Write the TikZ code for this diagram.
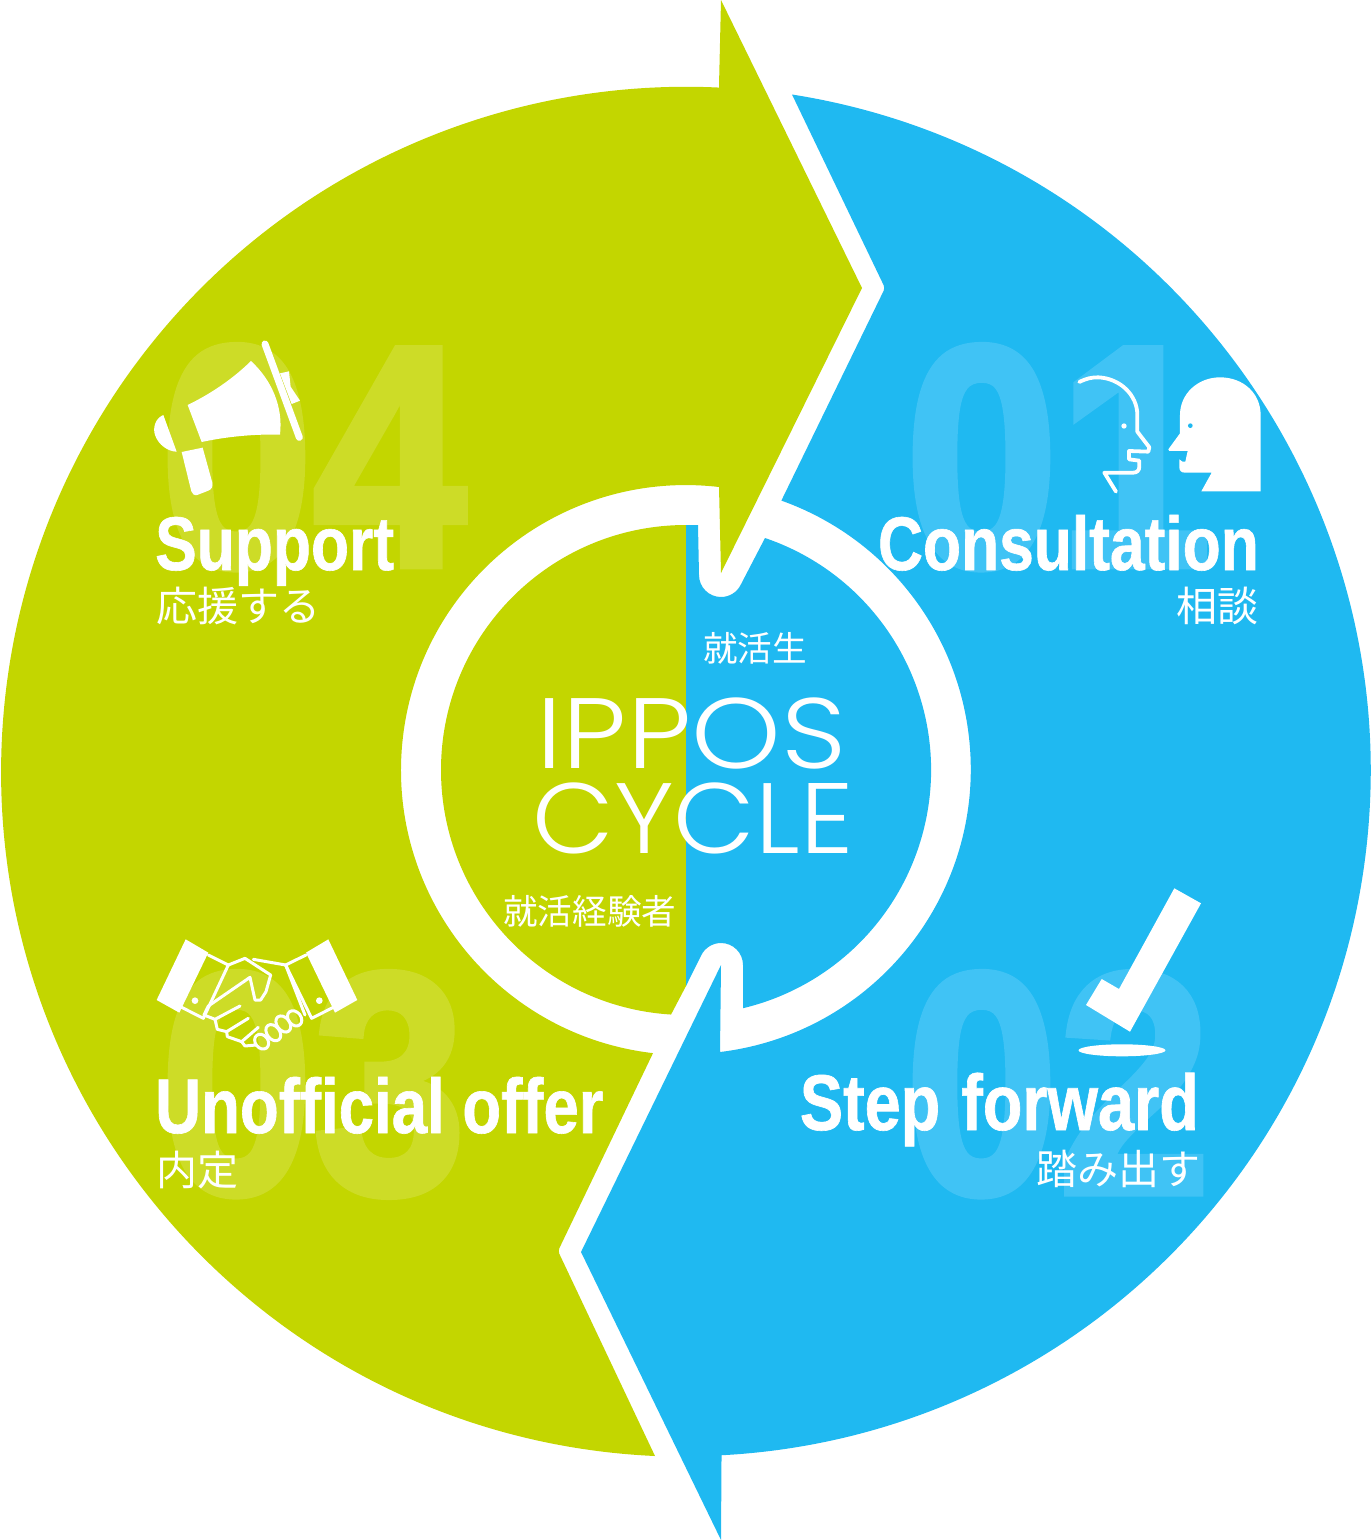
\documentclass[tikz,border=0pt]{standalone}
\usepackage{fontspec}
\setmainfont{Liberation Sans}
\newfontfamily\labelfont[FakeStretch=0.82,FakeBold=0.8]{Liberation Sans}
\newfontfamily\ghostfont[FakeStretch=0.87,FakeBold=2.2]{Liberation Sans}
\newfontfamily\ipposfont[FakeStretch=1.14]{Poppins Light}
\newfontfamily\cyclefont[FakeStretch=1.06]{Poppins Light}
\newfontfamily\jpfont{Noto Sans CJK JP}
\definecolor{ippogreen}{HTML}{C3D600}
\definecolor{ippoblue}{HTML}{1FB9F1}
\definecolor{ghostgreen}{HTML}{CDDC27}
\definecolor{ghostblue}{HTML}{40C3F5}

\begin{document}
\begin{tikzpicture}[x = 1pt, y = 1pt, yscale = -1,
	ghost/.style = {inner sep = 0pt, anchor = base west, font = \ghostfont\bfseries\fontsize{316}{316}\selectfont},
	title/.style = {text = white, inner sep = 0pt, anchor = base west, font = \labelfont\bfseries\fontsize{76}{76}\selectfont},
	titleright/.style = {title, anchor = base east},
	jptext/.style = {text = white, inner sep = 0pt, font = \jpfont\fontsize{41}{41}\selectfont},
	jpsmall/.style = {text = white, inner sep = 0pt, font = \jpfont\fontsize{34.6}{34.6}\selectfont},
	cycletext/.style = {text = white, inner sep = 0pt, anchor = base},
	icon/.style = {fill = white, draw = none},
	iconline/.style = {draw = white, line width = 3pt, line join = round, line cap = round}]
	\useasboundingbox (0,0) rectangle (1372,1540);

	\fill[ippogreen] (719,86) -- (721,0) -- (862,288) -- (721,573) -- (719,487) arc (-83.35:-263.35:285pt) [rounded corners = 3pt] -- (558,1251) [rounded corners = 0pt] -- (655,1456) arc (92.6:272.76:685pt) -- cycle;
	\fill[ippoblue] (792,94.5) arc (-81.07:87:685pt) -- (721,1540) -- (581,1252) -- (721,965) -- (720,1052) arc (83.1:-70.4:285pt) [rounded corners = 3pt] -- (885,288) [rounded corners = 0pt] -- cycle;
	\fill[ippogreen] (686,525) arc (-90:-266.5:245pt) -- (686,986) -- cycle;
	\fill[ippoblue] (686,525) -- (698,525) -- (699,575) arc (180:26.3:22pt) -- (765,538) arc (-71.2:76.5:245pt) -- (743,965) arc (0:-154:22pt) -- (686,986) -- cycle;

	\node[ghost, text = ghostblue] (num1) at (905,566) {01};
	\node[ghost, text = ghostblue] (num2) at (905,1193) {02};
	\node[ghost, text = ghostgreen] (num3) at (160,1193) {03};
	\node[ghost, text = ghostgreen] (num4) at (160,566) {04};

	\node[jpsmall, anchor = west] (student) at (703,648) {就活生};
	\node[cycletext, font = \ipposfont\fontsize{100}{100}\selectfont] (ippos) at (691.5,768) {IPPOS};
	\node[cycletext, font = \cyclefont\fontsize{100}{100}\selectfont] (cycle) at (693,853) {CYCLE};
	\node[jpsmall, anchor = west] (senior) at (503,911) {就活経験者};

	\node[titleright] (consult) at (1259,570) {Consultation};
	\node[jptext, anchor = east] (consultjp) at (1259,606) {相談};
	\node[titleright, font = \labelfont\bfseries\fontsize{79}{79}\selectfont] (step) at (1199,1130) {Step\hspace{3pt} forward};
	\node[jptext, anchor = east] (stepjp) at (1201,1169) {踏み出す};
	\node[title, font = \labelfont\bfseries\fontsize{77.5}{77.5}\selectfont] (offer) at (155,1133) {Unofficial offer};
	\node[jptext, anchor = west] (offerjp) at (156,1170) {内定};
	\node[title] (support) at (155,570) {Support};
	\node[jptext, anchor = west] (supportjp) at (156,606) {応援する};

	% two heads
	\begin{scope}[shift = {(1060,360)}, scale = 0.3333]
		\draw[iconline, line width = 3.8pt] (58,66) .. controls (80,55) and (95,52) .. (115,52) .. controls (180,55) and (232,105) .. (232,165) -- (232,215) -- (268,262) -- (265,275) -- (207,273) -- (207,298) -- (238,302) -- (238,320) .. controls (238,332) and (230,338) .. (220,338) -- (133,338) -- (168,395);
		\fill[icon] (192,198) circle [radius = 8pt];
		\fill[icon] (325,268) -- (360,220) -- (360,165) .. controls (360,100) and (415,52) .. (480,52) .. controls (550,52) and (602,100) .. (602,165) -- (602,394) -- (424,394) -- (455,338) -- (375,338) .. controls (364,338) and (358,332) .. (358,322) -- (358,298) .. controls (364,305) and (372,308) .. (376,305) -- (383,273) -- (328,273) -- cycle;
		\fill[ippoblue] (391,197) circle [radius = 7pt];
	\end{scope}

	% check mark
	\fill[icon] (1174.3,888.3) -- (1201,903.3) -- (1130,1031.7) -- (1086,1005) -- (1101.7,979) -- (1119,989) -- cycle;
	\fill[icon] (1122,1050.3) ellipse [x radius = 43.5pt, y radius = 6pt];

	% handshake
	\begin{scope}[shift = {(140,920)}, scale = 0.3333]
		\fill[icon] (137,58) -- (205,98) -- (118,278) -- (50,240) -- cycle;
		\fill[icon] (565,58) -- (652,240) -- (585,278) -- (498,98) -- cycle;
		\draw[iconline] (205,105) -- (265,135) -- (190,295) -- (125,262);
		\draw[iconline] (498,105) -- (437,135) -- (515,295) -- (580,262);
		\fill[icon] (165,242) circle [radius = 10pt];
		\fill[icon] (538,242) circle [radius = 10pt];
		\draw[iconline] (265,135) -- (315,115) -- (392,165) -- (378,215) -- (362,240) -- (345,240) -- (330,172) -- (205,258) -- (192,285) -- (225,298) -- (300,258);
		\draw[iconline] (340,118) -- (437,135) -- (495,285);
		\draw[iconline] (225,298) -- (232,328) -- (260,335) -- (325,295);
		\draw[iconline] (260,335) -- (262,350) -- (305,365) -- (355,322);
		\draw[iconline] (305,365) -- (315,378) -- (348,375);
		\draw[iconline, rotate around = {-38:(365,365)}] (365,365) ellipse [x radius = 19pt, y radius = 24pt];
		\draw[iconline, rotate around = {-38:(400,338)}] (400,338) ellipse [x radius = 19pt, y radius = 27pt];
		\draw[iconline, rotate around = {-38:(430,312)}] (430,312) ellipse [x radius = 19pt, y radius = 27pt];
		\draw[iconline, rotate around = {-38:(464,295)}] (464,295) ellipse [x radius = 19pt, y radius = 25pt];
	\end{scope}

	% megaphone
	\begin{scope}[shift = {(140,330)}, scale = 0.3333]
		\fill[icon] (143,225) .. controls (215,190) and (280,145) .. (333,93) .. controls (395,150) and (430,230) .. (420,314) .. controls (340,312) and (260,320) .. (185,336) -- cycle;
		\fill[icon] (70,255) .. controls (45,265) and (38,295) .. (45,315) .. controls (55,345) and (85,365) .. (110,365) -- cycle;
		\fill[icon] (125,366) -- (188,353) -- (217,458) .. controls (219,470) and (215,478) .. (205,482) -- (172,495) .. controls (162,497) and (157,492) .. (154,484) -- cycle;
		\draw[white, line width = 7pt, line cap = round] (375,42) -- (478,322);
		\fill[icon] (420,130) -- (447,124) -- (452,170) -- (480,212) -- (455,222) -- cycle;
	\end{scope}
\end{tikzpicture}
\end{document}
